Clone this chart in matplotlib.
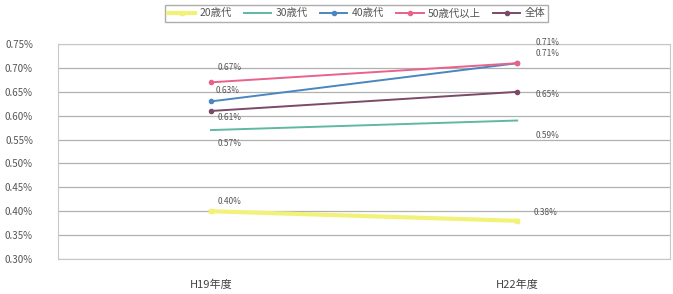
import matplotlib.pyplot as plt
from matplotlib.ticker import FuncFormatter, MultipleLocator

plt.rcParams['font.family'] = ['Noto Sans CJK JP', 'DejaVu Sans']

categories = ['H19年度', 'H22年度']
series_names = ['20歳代', '30歳代', '40歳代', '50歳代以上', '全体']
v20 = [0.40, 0.38]
v30 = [0.57, 0.59]
v40 = [0.63, 0.71]
v50 = [0.67, 0.71]
vall = [0.61, 0.65]

colors = ['#f2f27a', '#5fb8a2', '#4a86c0', '#e8628a', '#7a4a68']
markers = ['s', None, 'o', 'o', 'o']
values = [v20, v30, v40, v50, vall]

# label offsets (points) for each series at H19 / H22
offsets = [[(5, 7), (12, 6)],
           [(5, -10), (13, -11)],
           [(3, 8), (13, 15)],
           [(5, 11), (13, 7)],
           [(5, -5), (13, -2)]]

fig = plt.figure(figsize=(6.73, 2.94), dpi=100)
ax = fig.add_axes([0.086, 0.119, 0.91, 0.731])

x = range(len(categories))
for name, vals, c, m, offs in zip(series_names, values, colors, markers, offsets):
    lw = 3.0 if name == '20歳代' else 1.4
    ax.plot(x, vals, color=c, lw=lw, marker=m, ms=3, label=name, zorder=3)
    for xi, v, off in zip(x, vals, offs):
        ax.annotate(f'{v:.2f}%', (xi, v), xytext=off, textcoords='offset points',
                    fontsize=6, color='#555555', va='center', ha='left')

ax.set_xlim(-0.5, 1.5)
ax.set_ylim(0.30, 0.75)
ax.yaxis.set_major_locator(MultipleLocator(0.05))
ax.yaxis.set_major_formatter(FuncFormatter(lambda v, p: f'{v:.2f}%'))
ax.set_xticks(list(x))
ax.set_xticklabels(categories)
ax.tick_params(axis='y', labelsize=7, colors='#555555', length=0, pad=18)
ax.tick_params(axis='x', labelsize=8, colors='#444444', length=0, pad=15)
ax.grid(axis='y', color='#b0b0b0', lw=0.9)
ax.set_axisbelow(True)
for s in ax.spines.values():
    s.set_color('#c8c8c8')
    s.set_linewidth(0.8)

leg = fig.legend(loc='upper center', bbox_to_anchor=(0.53, 1.0), ncol=5,
                 fontsize=7.5, frameon=True, fancybox=False, edgecolor='#999999',
                 handlelength=2.6, columnspacing=1.2, borderpad=0.3, handletextpad=0.4)
for t in leg.get_texts():
    t.set_color('#555555')

fig.savefig('out.png', dpi=100)
